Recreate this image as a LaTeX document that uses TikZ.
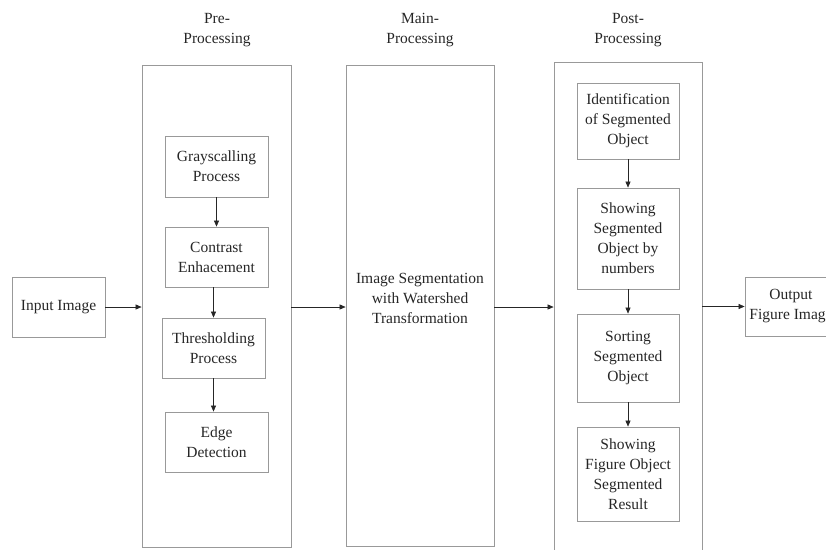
\documentclass[tikz,border=0pt]{standalone}
\usepackage{fontspec}
\setmainfont{Liberation Serif}
\usetikzlibrary{positioning,arrows.meta}

\begin{document}
\begin{tikzpicture}[x=1pt,y=-1pt,
    txt/.style={align=center,inner sep=0pt,text=black!85,font=\fontsize{15.5}{20}\selectfont},
    box/.style={txt,draw=gray!80,line width=0.8pt},
    frame/.style={draw=gray!80,line width=0.8pt,inner sep=0pt},
    arr/.style={-{Triangle[length=6pt,width=5pt]},line width=0.6pt,black!85}]
    \useasboundingbox (0,0) rectangle (826,549);

    \node[txt] at (217,30)(pretitle) {Pre-\\Processing};
    \node[txt] at (420,30)(maintitle) {Main-\\Processing};
    \node[txt] at (628,30)(posttitle) {Post-\\Processing};

    \node[frame,minimum width=149pt,minimum height=482pt] at (216.5,306)(pre) {};
    \node[frame,minimum width=148pt,minimum height=481pt] at (420,305.5)(mainproc) {};
    \node[frame,minimum width=148pt,minimum height=493pt] at (628,308.5)(post) {};

    \node[box,minimum width=93pt,minimum height=60pt] at (58.5,307)(input) {Input Image};
    \node[box,minimum width=92pt,minimum height=59pt] at (791,306.5)(output) {Output\\Figure Image};

    \node[box,minimum width=103pt,minimum height=61pt] at (216.5,166.5)(gray) {Grayscalling\\Process};
    \node[box,minimum width=103pt,minimum height=60pt] at (216.5,257)(contrast) {Contrast\\Enhacement};
    \node[box,minimum width=103pt,minimum height=60pt] at (213.5,348)(thresh) {Thresholding\\Process};
    \node[box,minimum width=103pt,minimum height=60pt] at (216.5,442)(edge) {Edge\\Detection};

    \node[txt] at (420,298)(watershed) {Image Segmentation\\with Watershed\\Transformation};

    \node[box,minimum width=102pt,minimum height=76pt] at (628,121)(ident) {Identification\\of Segmented\\Object};
    \node[box,minimum width=102pt,minimum height=101pt] at (628,238.5)(shownum) {Showing\\Segmented\\Object by\\numbers};
    \node[box,minimum width=102pt,minimum height=88pt] at (628,358)(sort) {Sorting\\Segmented\\Object};
    \node[box,minimum width=102pt,minimum height=94pt] at (628,474)(showfig) {Showing\\Figure Object\\Segmented\\Result};

    % flow between the stages
    \draw[arr] (input) -- (input -| pre.west);
    \draw[arr] (pre.east |- input) -- (mainproc.west |- input);
    \draw[arr] (mainproc.east |- input) -- (post.west |- input);
    \draw[arr] (post.east |- output) -- (output);

    % inside the stages
    \draw[arr] (gray) -- (contrast);
    \draw[arr] (contrast.south -| thresh.north) -- (thresh.north);
    \draw[arr] (thresh.south) -- (thresh.south |- edge.north);
    \draw[arr] (ident) -- (shownum);
    \draw[arr] (shownum) -- (sort);
    \draw[arr] (sort) -- (showfig);

\end{tikzpicture}
\end{document}
